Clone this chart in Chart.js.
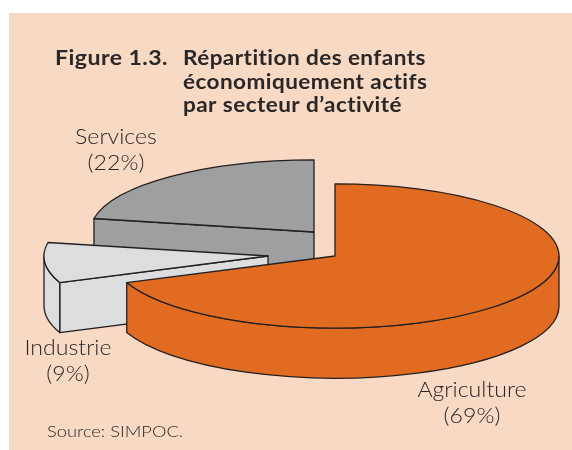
<!DOCTYPE html>
<html><head><meta charset="utf-8">
<script src="https://cdn.jsdelivr.net/npm/chart.js@4.4.1/dist/chart.umd.min.js"></script>
<style>html,body{margin:0;padding:0;background:#fff}canvas{display:block}</style>
</head><body>
<canvas id="c" width="572" height="450"></canvas>
<script>
// ---- data ----
const categories = ['Agriculture', 'Industrie', 'Services'];
const shares = [69, 9, 22];
const titleLead = 'Figure 1.3.';
const titleLines = ['Répartition des enfants', 'économiquement actifs', 'par secteur d’activité'];
const sourceText = 'Source: SIMPOC.';

// ---- style / layout ----
const sliceColors = ['#E16C21', '#DCDDDF', '#9E9FA1'];
const outline = '#231F20';
const panelColor = '#F8D9C3';
const textColor = '#2A2728';
const TILT = 0.322, DEPTH = 50, PIE_Y = 256;
const sliceShift = [[0, 0], [-67, 0], [-21, -24]];
const labelAnchors = [[472, 397], [68, 355], [116, 144]];

function fitted(ctx, text, x, y, sx, align) {
  ctx.save();
  ctx.translate(x, y);
  ctx.scale(sx, 1);
  ctx.textAlign = align || 'left';
  ctx.fillText(text, 0, 0);
  ctx.restore();
}

const pie3d = {
  id: 'pie3d',
  beforeDraw(chart) {
    const ctx = chart.ctx;
    ctx.save();
    ctx.fillStyle = '#fff'; ctx.fillRect(0, 0, chart.width, chart.height);
    ctx.fillStyle = panelColor; ctx.fillRect(9, 13, chart.width - 9, chart.height - 13);
    ctx.restore();
  },
  beforeDatasetsDraw(chart) {
    const ctx = chart.ctx;
    const arcs = chart.getDatasetMeta(0).data;
    const mid = a => (a.startAngle + a.endAngle) / 2;
    const order = arcs.map((a, i) => i).sort((i, j) => Math.sin(mid(arcs[i])) - Math.sin(mid(arcs[j])));
    order.forEach(i => {
      const a = arcs[i];
      const p = a.getProps(['x', 'y', 'startAngle', 'endAngle', 'outerRadius']);
      const ox = p.x + sliceShift[i][0], oy = PIE_Y + sliceShift[i][1];
      const rx = p.outerRadius, ry = p.outerRadius * TILT;
      const s = p.startAngle, e = p.endAngle;
      const pt = t => [ox + rx * Math.cos(t), oy + ry * Math.sin(t)];
      ctx.save();
      ctx.fillStyle = a.options.backgroundColor;
      ctx.strokeStyle = outline; ctx.lineWidth = 1.3; ctx.lineJoin = 'round';
      const face = t => {
        const [x, y] = pt(t);
        ctx.beginPath(); ctx.moveTo(ox, oy); ctx.lineTo(x, y); ctx.lineTo(x, y + DEPTH);
        ctx.lineTo(ox, oy + DEPTH); ctx.closePath(); ctx.fill(); ctx.stroke();
      };
      if (Math.cos(s) < -1e-6) face(s);
      if (Math.cos(e) > 1e-6) face(e);
      for (let k = -1; k <= 1; k++) {
        const lo = Math.max(s, 2 * Math.PI * k), hi = Math.min(e, 2 * Math.PI * k + Math.PI);
        if (hi - lo > 1e-4) {
          ctx.beginPath();
          ctx.ellipse(ox, oy, rx, ry, 0, lo, hi, false);
          const [hx, hy] = pt(hi);
          ctx.lineTo(hx, hy + DEPTH);
          ctx.ellipse(ox, oy + DEPTH, rx, ry, 0, hi, lo, true);
          ctx.closePath(); ctx.fill(); ctx.stroke();
        }
      }
      // top face drawn by the library, squashed into an ellipse
      ctx.save();
      ctx.translate(sliceShift[i][0], oy);
      ctx.scale(1, TILT);
      ctx.translate(0, -p.y);
      a.draw(ctx);
      ctx.restore();
      ctx.beginPath(); ctx.moveTo(ox, oy);
      ctx.ellipse(ox, oy, rx, ry, 0, s, e, false);
      ctx.closePath(); ctx.stroke();
      ctx.restore();
    });
    return false;
  },
  afterDraw(chart) {
    const ctx = chart.ctx;
    ctx.save();
    ctx.fillStyle = textColor;
    ctx.textBaseline = 'alphabetic';
    // title
    ctx.font = '700 21px Lato, "Open Sans", sans-serif';
    if ('letterSpacing' in ctx) ctx.letterSpacing = '0.4px';
    const meas = titleLines.reduce((s, t) => s + ctx.measureText(t).width, 0);
    const tsx = (242 + 244 + 220) / meas;
    fitted(ctx, titleLead, 55, 65, (113 / ctx.measureText(titleLead).width));
    titleLines.forEach((t, k) => fitted(ctx, t, 183, 65 + k * 23.5, tsx));
    if ('letterSpacing' in ctx) ctx.letterSpacing = '0px';
    // labels
    ctx.font = '300 22px Lato, "Open Sans", sans-serif';
    const total = shares.reduce((s, v) => s + v, 0);
    const lm = categories.reduce((s, t) => s + ctx.measureText(t).width, 0);
    const lsx = (109 + 86 + 83) / lm;
    categories.forEach((c, i) => {
      const [x, y] = labelAnchors[i];
      fitted(ctx, c, x, y, lsx, 'center');
      fitted(ctx, '(' + Math.round(shares[i] / total * 100) + '%)', x, y + 26, lsx, 'center');
    });
    // source
    ctx.font = '300 16px Lato, "Open Sans", sans-serif';
    const ssx = 136 / ctx.measureText(sourceText).width;
    fitted(ctx, sourceText, 47, 437, ssx);
    ctx.restore();
  }
};

new Chart(document.getElementById('c'), {
  type: 'pie',
  data: {
    labels: categories,
    datasets: [{ data: shares, backgroundColor: sliceColors, borderWidth: 0 }]
  },
  options: {
    responsive: false,
    devicePixelRatio: 1,
    animation: false,
    events: [],
    layout: { padding: { left: 111, right: 13, top: 1, bottom: 1 } },
    plugins: { legend: { display: false }, tooltip: { enabled: false }, title: { display: false } }
  },
  plugins: [pie3d]
});
</script>
</body></html>
